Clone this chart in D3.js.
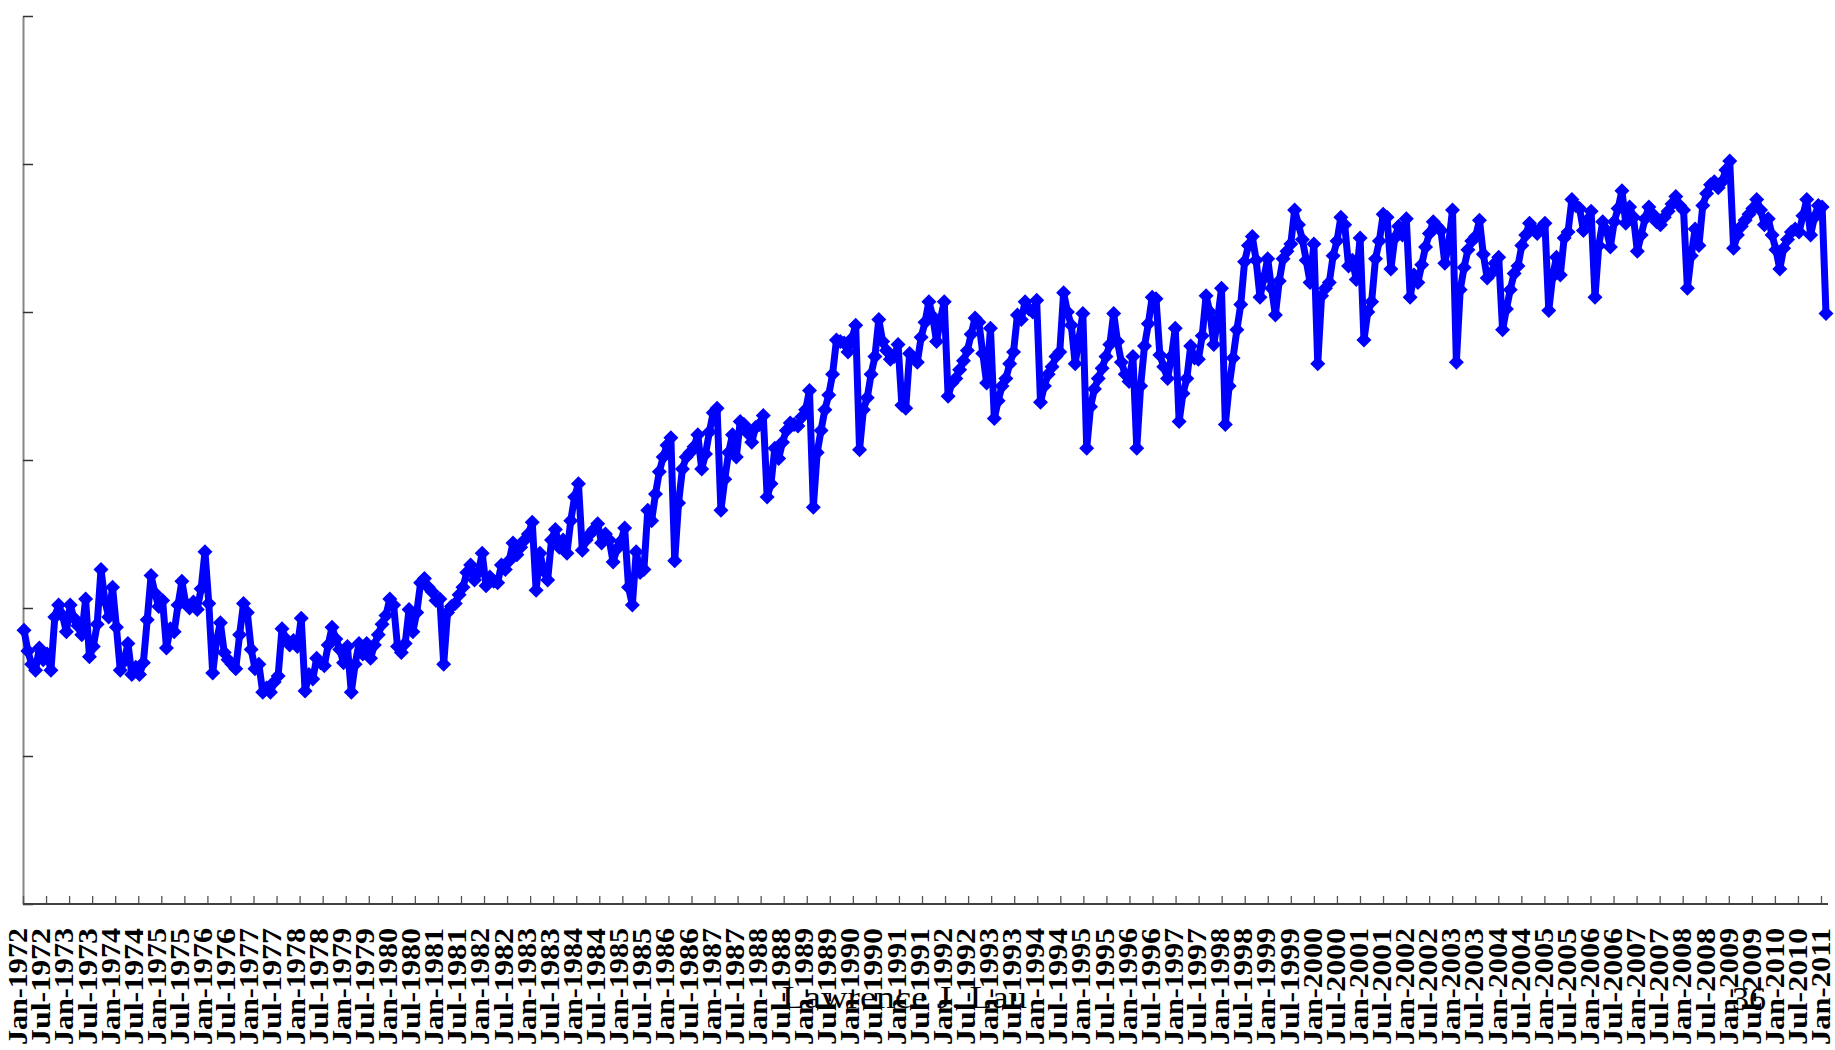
<!DOCTYPE html>
<html>
<head>
<meta charset="utf-8">
<script src="https://cdn.jsdelivr.net/npm/d3@7"></script>
<style>
  body { margin: 0; background: #ffffff; }
  svg { display: block; }
</style>
</head>
<body>
<div id="chart"></div>
<script>
var monthNames = ["Jan", "Feb", "Mar", "Apr", "May", "Jun", "Jul", "Aug", "Sep", "Oct", "Nov", "Dec"];
var firstYear = 1972;
var labelMonths = ["Jan", "Jul"];
var yTicks = [0, 10, 20, 30, 40, 50, 60];
var footerText = "Lawrence J. Lau";
var pageNumber = "36";

// monthly values, Jan-1972 .. Dec-1979
var values1970s = [
  18.5, 17.1, 16.2, 15.8, 17.3, 16.5, 16.9, 15.8, 19.4, 20.2, 19.5, 18.4,
  20.2, 19.3, 18.8, 18.2, 20.6, 16.7, 17.4, 18.9, 22.6, 20.5, 19.4, 21.4,
  18.7, 15.8, 16.4, 17.6, 15.5, 16.0, 15.5, 16.3, 19.2, 22.2, 21.0, 20.1,
  20.5, 17.3, 18.6, 18.4, 20.2, 21.8, 20.3, 20.0, 20.4, 19.9, 21.3, 23.8,
  20.3, 15.6, 17.8, 19.0, 17.0, 16.5, 16.2, 15.9, 18.2, 20.3, 19.7, 17.2,
  15.9, 16.2, 14.3, 14.6, 14.3, 15.0, 15.4, 18.6, 17.9, 17.5, 17.8, 17.4,
  19.3, 14.4, 15.5, 15.2, 16.6, 16.3, 16.1, 17.5, 18.7, 17.9, 17.2, 16.3,
  17.4, 14.3, 16.2, 17.6, 16.9, 17.6, 16.6, 17.5, 18.2, 18.9, 19.5, 20.6
];
// Jan-1980 .. Dec-1989
var values1980s = [
  20.2, 17.4, 17.0, 17.6, 19.9, 18.4, 19.7, 21.7, 22.0, 21.4, 21.1, 20.5,
  20.6, 16.2, 19.7, 20.1, 20.3, 20.9, 21.4, 22.4, 22.9, 21.9, 22.4, 23.7,
  21.5, 22.1, 21.8, 21.7, 22.9, 22.6, 23.2, 24.4, 23.6, 24.1, 24.6, 25.0,
  25.8, 21.2, 23.7, 22.5, 21.9, 24.6, 25.3, 24.1, 24.6, 23.7, 25.9, 27.5,
  28.4, 23.9, 24.6, 25.0, 25.3, 25.7, 24.4, 25.0, 24.6, 23.1, 24.0, 24.5,
  25.4, 21.4, 20.2, 23.8, 22.4, 22.6, 26.6, 25.9, 27.7, 29.2, 30.2, 31.0,
  31.5, 23.2, 27.1, 29.4, 30.2, 30.5, 30.9, 31.7, 29.4, 30.4, 31.9, 33.2,
  33.5, 26.6, 28.7, 30.5, 31.7, 30.2, 32.6, 32.4, 31.8, 31.2, 32.2, 32.4,
  33.0, 27.5, 28.4, 30.8, 30.1, 31.2, 32.0, 32.5, 32.4, 32.3, 32.9, 33.4,
  34.7, 26.8, 30.5, 32.0, 33.4, 34.4, 35.8, 38.1, 38.0, 37.9, 37.3, 38.2
];
// Jan-1990 .. Dec-1999
var values1990s = [
  39.1, 30.7, 33.4, 34.2, 35.8, 37.0, 39.5, 38.0, 37.4, 36.8, 37.0, 37.8,
  33.7, 33.5, 37.2, 36.9, 36.6, 38.3, 39.3, 40.7, 39.7, 38.0, 39.5, 40.7,
  34.3, 35.2, 35.5, 36.1, 36.7, 37.4, 38.5, 39.6, 39.3, 37.2, 35.2, 38.9,
  32.8, 34.0, 35.0, 35.5, 36.5, 37.3, 39.8, 39.5, 40.7, 40.2, 40.0, 40.8,
  33.9, 35.0, 35.8, 36.3, 37.0, 37.3, 41.3, 40.0, 39.1, 36.5, 38.2, 39.9,
  30.8, 33.6, 34.8, 35.5, 36.2, 37.0, 37.8, 39.9, 38.0, 36.6, 35.8, 35.3,
  37.0, 30.8, 35.0, 37.7, 39.2, 41.0, 40.9, 37.1, 36.3, 35.5, 37.0, 38.9,
  32.6, 34.5, 35.5, 37.7, 36.9, 36.8, 38.4, 41.1, 40.0, 37.8, 39.5, 41.6,
  32.4, 35.0, 36.9, 38.8, 40.5, 43.4, 44.5, 45.1, 43.5, 41.0, 42.3, 43.6,
  41.6, 39.8, 42.1, 43.6, 44.1, 44.6, 46.9, 45.9, 44.9, 43.5, 42.0, 44.6
];
// Jan-2000 .. Dec-2009
var values2000s = [
  36.5, 41.1, 41.6, 42.0, 43.8, 44.8, 46.4, 45.9, 43.1, 43.5, 42.2, 45.0,
  38.1, 40.0, 40.7, 43.6, 44.8, 46.6, 46.4, 42.9, 45.0, 45.8, 45.2, 46.3,
  41.0, 42.5, 42.0, 43.2, 44.4, 45.3, 46.1, 45.8, 45.5, 43.3, 44.6, 46.9,
  36.6, 41.5, 43.0, 44.2, 44.8, 45.1, 46.2, 43.9, 42.3, 42.6, 43.3, 43.7,
  38.8, 40.2, 41.5, 42.6, 43.1, 44.5, 45.2, 46.0, 45.6, 45.3, 45.7, 46.0,
  40.1, 42.4, 43.7, 42.5, 45.0, 45.4, 47.6, 47.2, 47.0, 45.5, 46.2, 46.8,
  41.0, 44.5, 46.1, 45.5, 44.4, 46.1, 47.0, 48.2, 46.0, 47.1, 46.4, 44.1,
  45.2, 46.3, 47.1, 46.6, 46.1, 45.9, 46.4, 46.8, 47.3, 47.8, 47.2, 46.9,
  41.6, 43.8, 45.6, 44.5, 47.2, 48.0, 48.6, 48.8, 48.4, 48.8, 49.6, 50.2,
  44.3, 45.2, 45.8, 46.2, 46.6, 47.0, 47.6, 46.9, 45.9, 46.3, 45.2, 44.2
];
// Jan-2010 .. Jan-2011
var values2010s = [
  42.9, 44.3, 44.9, 45.4, 45.6, 45.4, 46.5, 47.6, 45.2, 46.4, 47.2, 47.1,
  39.9
];

var chart = {};

document.addEventListener("DOMContentLoaded", function(event) {
  drawChart();
});

function drawChart() {
  chart.w = 1835;
  chart.h = 1050;
  chart.left = 23;
  chart.right = 1828;
  chart.top = 16;
  chart.bottom = 904;

  var values = values1970s.concat(values1980s, values1990s, values2000s, values2010s);
  var categories = values.map(function(d, i) {
    return monthNames[i % 12] + "-" + (firstYear + Math.floor(i / 12));
  });
  var labelled = categories.filter(function(c) {
    return labelMonths.indexOf(c.split("-")[0]) >= 0;
  });

  chart.svg = d3.select("#chart")
    .append("svg")
    .attr("width", chart.w)
    .attr("height", chart.h);

  chart.x = d3.scalePoint().domain(categories).range([24, 1826]);
  chart.xTick = d3.scalePoint().domain(categories).range([chart.left, 1821]);
  chart.xLabel = d3.scalePoint().domain(categories).range([18, 1821]);
  chart.y = d3.scaleLinear().domain([0, 60]).range([chart.bottom, chart.top]);

  // y axis: grey line, short ticks pointing into the plot
  var yAxis = chart.svg.append("g")
    .attr("transform", "translate(" + chart.left + ",0)")
    .call(d3.axisRight(chart.y).tickValues(yTicks).tickSize(10).tickSizeOuter(0).tickFormat(""));
  yAxis.select(".domain").attr("stroke", "#868686").attr("stroke-width", 2);
  yAxis.selectAll(".tick line").attr("stroke", "#333333").attr("stroke-width", 1.5);

  // x axis: ticks every six months, pointing up
  var xAxis = chart.svg.append("g")
    .attr("transform", "translate(0," + chart.bottom + ")")
    .call(d3.axisTop(chart.xTick).tickValues(labelled).tickSize(8).tickSizeOuter(0).tickFormat(""));
  xAxis.select(".domain").remove();
  xAxis.selectAll(".tick line").attr("stroke", "#555555").attr("stroke-width", 1.3);
  chart.svg.append("line")
    .attr("x1", chart.left)
    .attr("x2", chart.right)
    .attr("y1", chart.bottom)
    .attr("y2", chart.bottom)
    .attr("stroke", "#404040")
    .attr("stroke-width", 2);

  // rotated month labels
  chart.svg.append("g")
    .selectAll("text")
    .data(labelled)
    .enter().append("text")
      .attr("transform", function(d) { return "translate(" + chart.xLabel(d) + ",928) rotate(-90)"; })
      .attr("dy", "0.34em")
      .attr("text-anchor", "end")
      .attr("textLength", 117)
      .attr("lengthAdjust", "spacingAndGlyphs")
      .style("font-family", "'Liberation Serif', 'Times New Roman', serif")
      .style("font-weight", "bold")
      .style("font-size", "27px")
      .style("fill", "#000000")
      .text(function(d) { return d; });

  // the series
  var line = d3.line()
    .x(function(d, i) { return chart.x(categories[i]); })
    .y(function(d) { return chart.y(d); });

  chart.svg.append("path")
    .datum(values)
    .attr("d", line)
    .attr("fill", "none")
    .attr("stroke", "#0000ff")
    .attr("stroke-width", 7)
    .attr("stroke-linejoin", "round");

  var r = 7.5;
  chart.svg.append("g")
    .selectAll("path")
    .data(values)
    .enter().append("path")
      .attr("d", "M0," + (-r) + "L" + r + ",0L0," + r + "L" + (-r) + ",0Z")
      .attr("transform", function(d, i) {
        return "translate(" + chart.x(categories[i]) + "," + chart.y(d) + ")";
      })
      .attr("fill", "#0000ff");

  // slide footer
  chart.svg.append("text")
    .attr("x", 782)
    .attr("y", 1008)
    .attr("textLength", 245)
    .attr("lengthAdjust", "spacingAndGlyphs")
    .style("font-family", "'Liberation Serif', 'Times New Roman', serif")
    .style("font-size", "32px")
    .style("fill", "#000000")
    .text(footerText);

  chart.svg.append("text")
    .attr("x", 1732)
    .attr("y", 1010)
    .style("font-family", "'Liberation Serif', 'Times New Roman', serif")
    .style("font-size", "34px")
    .style("fill", "#000000")
    .text(pageNumber);
}
</script>
</body>
</html>
